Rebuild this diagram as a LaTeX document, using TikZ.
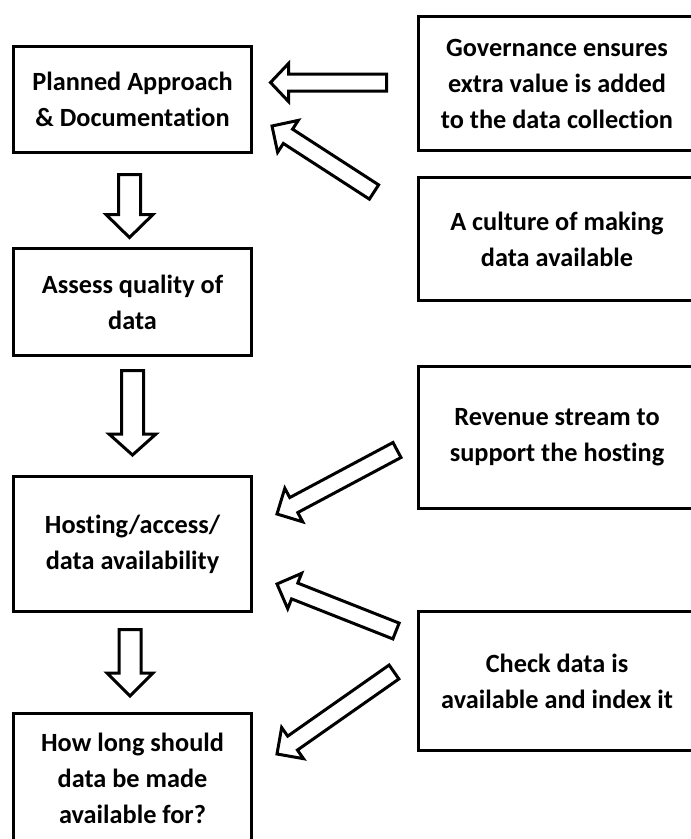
\documentclass[tikz,border=0pt]{standalone}
\usepackage{fontspec}
\setmainfont{Carlito}[Ligatures=NoCommon]
\usetikzlibrary{calc}

\newcommand\fatarrow[5]{%
  \coordinate (fa-base) at ($(#2)!#5!(#1)$);
  \draw[fat] ($(#1)!#3!90:(#2)$) -- ($(fa-base)!#3!90:(#2)$) -- ($(fa-base)!#4!90:(#2)$) -- (#2)
    -- ($(fa-base)!#4!270:(#2)$) -- ($(fa-base)!#3!270:(#2)$) -- ($(#1)!#3!270:(#2)$) -- cycle;
}

\begin{document}
\begin{tikzpicture}
[   x=1pt, y=-1pt,
    box/.style={draw, line width=3pt, align=center, inner sep=0pt,
        font=\fontsize{26.3}{36}\selectfont\bfseries},
    fat/.style={draw, line width=3pt, fill=white, line join=miter},
]
\clip (0,0) rectangle (691,839);

\node[box, minimum width=238pt, minimum height=106pt] (plan) at (132.5,99.5) {Planned Approach\\\& Documentation};
\node[box, minimum width=238pt, minimum height=107pt] (assess) at (132.5,302) {Assess quality of\\data};
\node[box, minimum width=238pt, minimum height=135pt] (host) at (132.5,544) {Hosting/access/\\data availability};
\node[box, minimum width=238pt, minimum height=129pt] (howlong) at (132.5,778) {How long should\\data be made\\available for?};

\node[box, minimum width=277pt, minimum height=134pt] (gov) at (557,83.5) {Governance ensures\\extra value is added\\to the data collection};
\node[box, minimum width=277pt, minimum height=123pt] (culture) at (557,239) {A culture of making\\data available};
\node[box, minimum width=277pt, minimum height=142pt] (revenue) at (557,437.5) {Revenue stream to\\support the hosting};
\node[box, minimum width=277pt, minimum height=139pt] (check) at (557,681) {Check data is\\available and index it};

\coordinate (d1a) at (129.5,174.5);
\coordinate (d1b) at (129.5,237.5);
\coordinate (d2a) at (132.5,370.5);
\coordinate (d2b) at (132.5,455);
\coordinate (d3a) at (130,629.5);
\coordinate (d3b) at (130,696);

\coordinate (g1) at (386.5,82.5);
\coordinate (g2) at (270.5,82.5);
\coordinate (c1) at (374,192);
\coordinate (c2) at (272,126);
\coordinate (r1) at (397,450);
\coordinate (r2) at (277,514);
\coordinate (k1) at (396,631);
\coordinate (k2) at (277,584);
\coordinate (k3) at (394,672);
\coordinate (k4) at (277,754);

\fatarrow{d1a}{d1b}{11pt}{23.5pt}{23pt}
\fatarrow{d2a}{d2b}{11pt}{23.5pt}{21pt}
\fatarrow{d3a}{d3b}{11pt}{23pt}{23pt}

\fatarrow{g1}{g2}{8.5pt}{19pt}{18pt}
\fatarrow{c1}{c2}{8.5pt}{19pt}{19pt}
\fatarrow{r1}{r2}{8.5pt}{19pt}{19pt}
\fatarrow{k1}{k2}{8.5pt}{19pt}{19pt}
\fatarrow{k3}{k4}{8.5pt}{19pt}{19pt}

\end{tikzpicture}
\end{document}
